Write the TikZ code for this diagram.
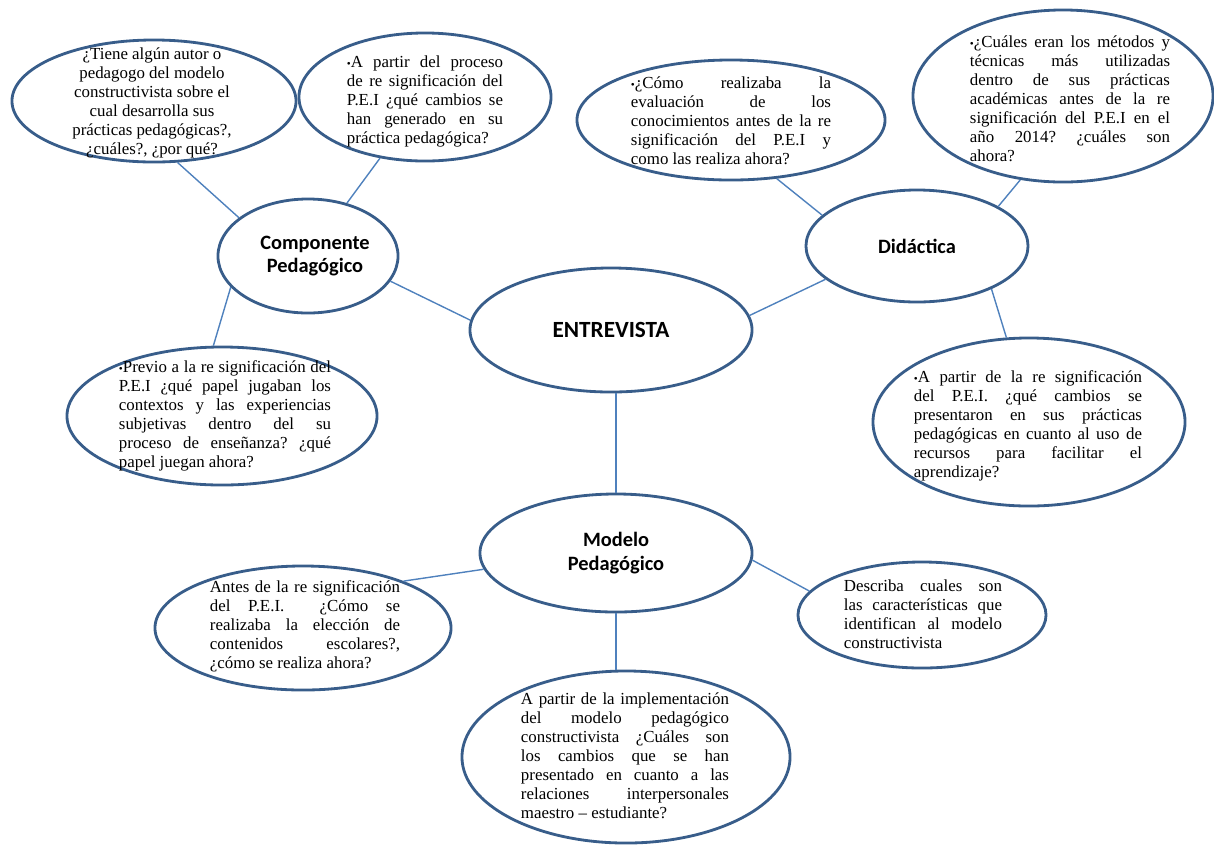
\documentclass[tikz,border=0pt]{standalone}
\usepackage{fontspec}
\setmainfont{Liberation Serif}
\newfontfamily\titlefont{Carlito}
\usetikzlibrary{shapes.geometric}
\definecolor{rimblue}{RGB}{56,93,138}
\definecolor{linkblue}{RGB}{79,129,189}
\tikzset{
  bubble/.style={ellipse,draw=rimblue,line width=2pt,fill=white,inner sep=0pt},
  hub/.style={bubble,font=\titlefont\bfseries\fontsize{14.5}{17}\selectfont,align=center},
  qtext/.style={inner sep=0pt,font=\fontsize{12}{13.5}\selectfont,align=justify},
  link/.style={draw=linkblue,line width=1pt},
}
\frenchspacing
\hyphenpenalty=10000
\exhyphenpenalty=10000
\tolerance=10000

\begin{document}
\begin{tikzpicture}[x=0.025cm,y=-0.025cm]
  \useasboundingbox (0,0) rectangle (1214,844);
  % centre and hubs
  \node[hub,minimum width=7.05cm,minimum height=3.1cm,
        font=\titlefont\bfseries\fontsize{16.5}{19}\selectfont] (entre) at (611,330) {ENTREVISTA};
  \node[hub,minimum width=4.5cm,minimum height=2.85cm] (comp) at (308,256) {\hspace*{0.35cm}Componente\\\hspace*{0.35cm}Pedagógico};
  \node[hub,minimum width=5.55cm,minimum height=2.8cm] (didac) at (917,246) {Didáctica};
  \node[hub,minimum width=6.8cm,minimum height=2.95cm] (modelo) at (616,553) {Modelo\\Pedagógico};
  % questions, componente pedagogico
  \node[bubble,minimum width=7.1cm,minimum height=3.05cm] (autor) at (154,101) {};
  \node[qtext,align=center] (autor-t) at (152,103)
    {¿Tiene algún autor o\\pedagogo del modelo\\constructivista sobre el\\cual desarrolla sus\\prácticas pedagógicas?,\\¿cuáles?, ¿por qué?};
  \node[bubble,minimum width=6.3cm,minimum height=3.2cm] (proceso) at (425,97) {};
  \node[qtext,text width=3.9cm] (proceso-t) at (425,101)
    {{\footnotesize•}A partir del proceso\linebreak de re significación del\linebreak P.E.I ¿qué cambios se\linebreak han generado en su\linebreak práctica pedagógica?};
  \node[bubble,minimum width=7.75cm,minimum height=3.45cm] (previo) at (222,416) {};
  \node[qtext,text width=5.3cm] (previo-t) at (225,416)
    {{\footnotesize•}Previo a la re significación del\linebreak P.E.I ¿qué papel jugaban los\linebreak contextos y las experiencias\linebreak subjetivas dentro del su\linebreak proceso de enseñanza? ¿qué\linebreak papel juegan ahora?};
  % questions, didactica
  \node[bubble,minimum width=7.7cm,minimum height=3.0cm] (evalua) at (731,120) {};
  \node[qtext,text width=5.0cm] (evalua-t) at (731,121)
    {{\footnotesize•}¿Cómo realizaba la\linebreak evaluación de los\linebreak conocimientos antes de la re\linebreak significación del P.E.I y\linebreak como las realiza ahora?};
  \node[bubble,minimum width=7.5cm,minimum height=4.3cm] (metodos) at (1063,96) {};
  \node[qtext,text width=5.0cm] (metodos-t) at (1070,99)
    {{\footnotesize•}¿Cuáles eran los métodos y\linebreak técnicas más utilizadas\linebreak dentro de sus prácticas\linebreak académicas antes de la re\linebreak significación del P.E.I en el\linebreak año 2014? ¿cuáles son\linebreak ahora?};
  \node[bubble,minimum width=7.8cm,minimum height=4.2cm] (recursos) at (1029,422) {};
  \node[qtext,text width=5.7cm] (recursos-t) at (1028,426)
    {{\footnotesize•}A partir de la re significación\linebreak del P.E.I. ¿qué cambios se\linebreak presentaron en sus prácticas\linebreak pedagógicas en cuanto al uso de\linebreak recursos para facilitar el\linebreak aprendizaje?};
  % questions, modelo pedagogico
  \node[bubble,minimum width=7.4cm,minimum height=3.1cm] (contenidos) at (303,628) {};
  \node[qtext,text width=4.75cm] (contenidos-t) at (305,626)
    {Antes de la re significación\linebreak del P.E.I.\ \ ¿Cómo se\linebreak realizaba la elección de\linebreak contenidos escolares?,\linebreak ¿cómo se realiza ahora?};
  \node[bubble,minimum width=6.2cm,minimum height=2.65cm] (describa) at (922,615) {};
  \node[qtext,text width=3.95cm] (describa-t) at (923,614)
    {Describa cuales son\linebreak las características que\linebreak identifican al modelo\linebreak constructivista};
  \node[bubble,minimum width=8.2cm,minimum height=4.3cm] (relaciones) at (626,757) {};
  \node[qtext,text width=5.2cm] (relaciones-t) at (625,756)
    {A partir de la implementación\linebreak del modelo pedagógico\linebreak constructivista ¿Cuáles son\linebreak los cambios que se han\linebreak presentado en cuanto a las\linebreak relaciones interpersonales\linebreak maestro – estudiante?};
  % connectors
  \foreach \s/\t in {comp.151/autor.291,comp/proceso,comp.202/previo.97,comp.343/entre.176,
                     entre.6/didac.200,didac.162/evalua.308,didac.26/metodos.243,didac.330/recursos.105,
                     modelo.187/contenidos.25,modelo.357/describa.168}
    {\draw[link] (\s) -- (\t);}
  \draw[link] (modelo.north) -- (modelo.north |- entre.south);
  \draw[link] (modelo.south) -- (modelo.south |- relaciones.north);
\end{tikzpicture}
\end{document}
